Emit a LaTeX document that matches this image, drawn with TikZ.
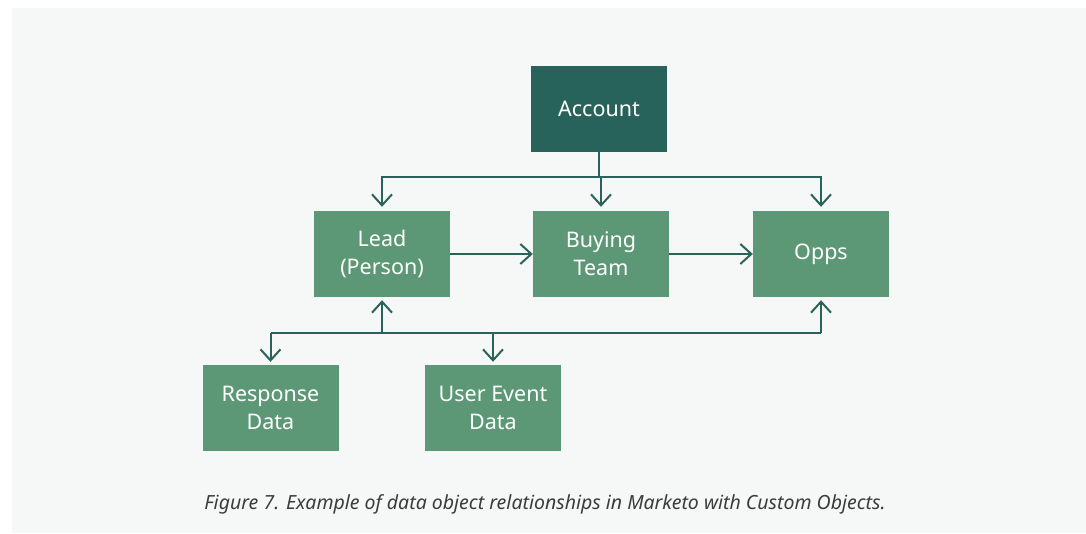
\documentclass[tikz,border=0pt]{standalone}
\usepackage{fontspec}
\setmainfont{Noto Sans}
\usepackage{tikz}
\usetikzlibrary{positioning, arrows, arrows.meta}

\definecolor{pagebg}{HTML}{F6F8F7}
\definecolor{acctgreen}{HTML}{28635B}
\definecolor{objgreen}{HTML}{5C9876}
\definecolor{linkgreen}{HTML}{29635A}
\definecolor{captiongray}{HTML}{3C3C3C}

\tikzset{
  objbox/.style={fill=objgreen, text=white, minimum width=136pt, minimum height=86pt,
    inner sep=0pt, align=center, font=\fontsize{21.5}{28}\selectfont},
  acctbox/.style={objbox, fill=acctgreen},
  link/.style={draw=linkgreen, line width=2pt},
  arr/.style={link, -{Straight Barb[length=11pt,width=20pt,line width=2pt]}},
}

\begin{document}
\begin{tikzpicture}[x=1pt,y=-1pt]
% page and panel
\fill[white] (0,0) rectangle (1086,533);
\fill[pagebg] (12,8) rectangle (1086,533);
\useasboundingbox (0,0) rectangle (1086,533);

% objects
\node[acctbox] (acct) at (599,109) {Account};
\node[objbox] (lead) at (382,254) {Lead\\(Person)};
\node[objbox] (team) at (601,254) {Buying\\Team};
\node[objbox] (opps) at (821,254) {Opps};
\node[objbox] (resp) at (270.5,408) {Response\\Data};
\node[objbox] (event) at (493,408) {User Event\\Data};

% account fans out to the three objects
\coordinate (topbus) at (599,177);
\draw[link] (acct.south) -- (topbus);
\draw[arr, shorten >=4pt] (topbus) -| (lead.north);
\draw[arr, shorten >=4pt] (topbus) -| (opps.north);
\draw[arr, shorten >=4pt] (topbus) -- (topbus -| team.north) -- (team.north);

% lead -> buying team -> opps
\draw[arr] (lead.east) -- (team.west);
\draw[arr] (team.east) -- (opps.west);

% bus under the middle row
\coordinate (lowbus) at (382,333);
\draw[link] (resp.north |- lowbus) -- (opps.south |- lowbus);
\draw[arr, shorten >=3pt] (lowbus) -- (lead.south);
\draw[arr, shorten >=3pt] (opps.south |- lowbus) -- (opps.south);
\draw[arr, shorten >=3pt] (resp.north |- lowbus) -- (resp.north);
\draw[arr, shorten >=3pt] (event.north |- lowbus) -- (event.north);

\node[text=captiongray, font=\itshape\fontsize{19.5}{22}\selectfont] (caption) at (545,504)
  {Figure 7. Example of data object relationships in Marketo with Custom Objects.};
\end{tikzpicture}
\end{document}
